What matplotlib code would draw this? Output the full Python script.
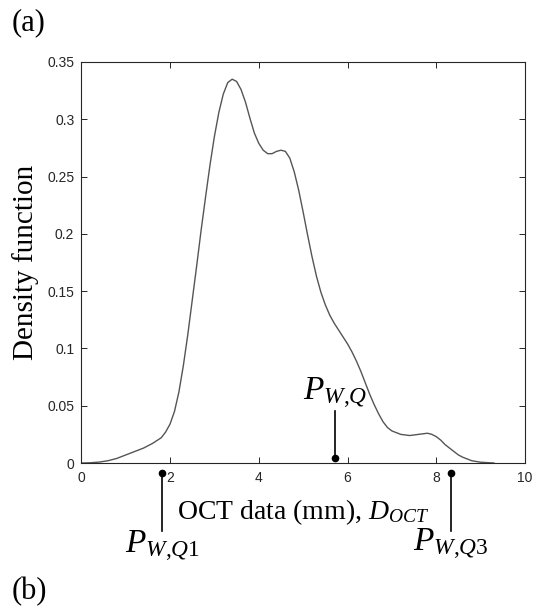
import numpy as np
import matplotlib.pyplot as plt

# kernel density curve
oct_x = [0.0, 0.2, 0.4, 0.6, 0.8, 1.0, 1.2, 1.4, 1.6, 1.8, 1.9, 2.0, 2.1, 2.2,
         2.3, 2.4, 2.5, 2.6, 2.7, 2.8, 2.9, 3.0, 3.1, 3.2, 3.3, 3.4, 3.5, 3.6,
         3.7, 3.8, 3.9, 4.0, 4.1, 4.2, 4.3, 4.4, 4.5, 4.6, 4.7, 4.8, 4.9, 5.0,
         5.1, 5.2, 5.3, 5.4, 5.5, 5.6, 5.7, 5.8, 5.9, 6.0, 6.1, 6.2, 6.3, 6.4,
         6.5, 6.6, 6.7, 6.8, 6.9, 7.0, 7.2, 7.4, 7.6, 7.8, 7.9, 8.0, 8.1, 8.2,
         8.3, 8.4, 8.5, 8.6, 8.8, 9.0, 9.3]
density = [0.0, 0.0002, 0.0008, 0.002, 0.004, 0.007, 0.010, 0.013, 0.017, 0.022,
           0.027, 0.034, 0.045, 0.062, 0.085, 0.112, 0.142, 0.172, 0.203, 0.232,
           0.260, 0.285, 0.306, 0.322, 0.332, 0.335, 0.333, 0.326, 0.315, 0.301,
           0.288, 0.279, 0.273, 0.270, 0.270, 0.272, 0.273, 0.272, 0.266, 0.254,
           0.238, 0.219, 0.199, 0.180, 0.163, 0.149, 0.138, 0.129, 0.122, 0.116,
           0.110, 0.104, 0.097, 0.089, 0.080, 0.070, 0.060, 0.051, 0.043, 0.036,
           0.031, 0.028, 0.025, 0.024, 0.025, 0.026, 0.025, 0.023, 0.020, 0.016,
           0.013, 0.010, 0.007, 0.005, 0.002, 0.0007, 0.0]

x_ticks = [0, 2, 4, 6, 8, 10]
y_ticks = [0, 0.05, 0.1, 0.15, 0.2, 0.25, 0.3, 0.35]

# quantile markers: x position, dot y, line end y, text y, label
q_x = [1.83, 5.72, 8.33]
q_dot = [-0.0085, 0.0046, -0.0085]
q_end = [-0.059, 0.045, -0.059]
q_text = [-0.079, 0.055, -0.077]
q_labels = [r'$P_{\mathit{W{,}Q1}}$', r'$P_{\mathit{W{,}Q}}$', r'$P_{\mathit{W{,}Q3}}$']

# Times-like italic math, digits included
plt.rcParams['mathtext.fontset'] = 'custom'
plt.rcParams['mathtext.rm'] = 'Liberation Serif'
plt.rcParams['mathtext.it'] = 'Liberation Serif:italic'
tick_color = '#262626'

fig = plt.figure(figsize=(5.43, 6.09), dpi=100)
ax = fig.add_axes([0.1497, 0.2397, 0.8172, 0.6585])

ax.plot(oct_x, density, color='#555555', lw=1.0)

ax.set_xlim(0, 10)
ax.set_ylim(0, 0.35)
ax.set_xticks(x_ticks)
ax.set_yticks(y_ticks)
ax.set_xticklabels(['%g' % v for v in x_ticks], family='Liberation Sans', fontsize=10)
ax.set_yticklabels(['%g' % v for v in y_ticks], family='Liberation Sans', fontsize=10)
ax.tick_params(axis='both', direction='in', top=True, right=True, length=4,
               width=0.7, colors=tick_color)
ax.tick_params(axis='x', pad=6)
ax.tick_params(axis='y', pad=5)
for sp in ax.spines.values():
    sp.set_color(tick_color)
    sp.set_linewidth(0.8)

ax.set_ylabel('Density function', family='Liberation Serif', fontsize=21, labelpad=6)
ax.text(5, -0.049, 'OCT data (mm), $D_{OCT}$', family='Liberation Serif',
        fontsize=20, ha='center', va='baseline', clip_on=False)

for xq, yd, ye, yt, lab in zip(q_x, q_dot, q_end, q_text, q_labels):
    ax.plot([xq, xq], [yd, ye], color='black', lw=1.2, clip_on=False)
    ax.plot([xq], [yd], 'o', color='black', ms=4.5, clip_on=False)
    ax.text(xq, yt, lab, fontsize=24, ha='center', va='baseline', clip_on=False)

fig.text(12 / 543, 1 - 30 / 609, '(a)', family='Liberation Serif', fontsize=22,
         va='baseline', ha='left')
fig.text(12 / 543, 1 - 599 / 609, '(b)', family='Liberation Serif', fontsize=22,
         va='baseline', ha='left')

fig.savefig('out.png', dpi=100)
